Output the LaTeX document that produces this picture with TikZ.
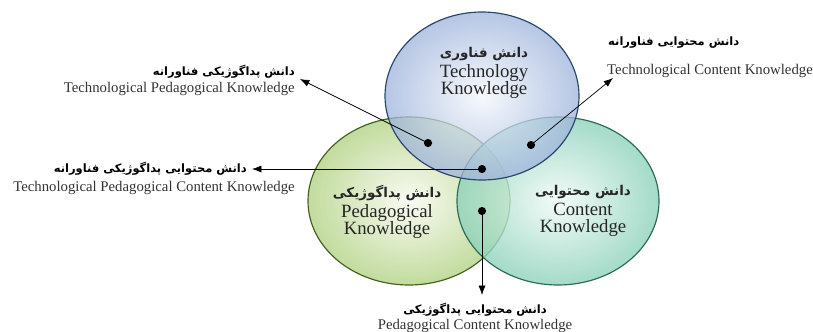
\documentclass[tikz,border=0pt]{standalone}
\usepackage{fontspec}
\setmainfont{Liberation Serif}
\newfontfamily\farsi[Script=Arabic]{DejaVu Sans}
\TeXXeTstate=1
\usetikzlibrary{arrows.meta}

\definecolor{techedge}{HTML}{2B4570}
\definecolor{techin}{HTML}{F4F7FC}
\definecolor{techout}{HTML}{9DB3DB}
\definecolor{pededge}{HTML}{43621F}
\definecolor{pedin}{HTML}{F8FAF0}
\definecolor{pedout}{HTML}{B7D58C}
\definecolor{conedge}{HTML}{2D6A58}
\definecolor{conin}{HTML}{F0FAF6}
\definecolor{conout}{HTML}{8DD2BA}

\newcommand{\fa}[1]{{\farsi\bfseries\beginR #1\endR}}
\newcommand{\setfa}[1]{{\fontsize{11.5}{13}\selectfont\fa{#1}}}

\begin{document}
\begin{tikzpicture}[x=0.03cm,y=-0.03cm,
  knowdot/.style={circle,fill=black,inner sep=0pt,minimum size=7pt},
  pointer/.style={-{Latex[length=8pt,width=6pt]},line width=0.6pt},
  falabel/.style={font=\fontsize{9.8}{11}\selectfont,inner sep=0pt},
  enlabel/.style={font=\fontsize{12.6}{14}\selectfont,text=black!80,inner sep=0pt},
  setname/.style={align=center,font=\fontsize{16}{14.8}\selectfont,text=black!85,inner sep=0pt}]
			%%%%% START %%%%%
			
			\useasboundingbox (0,0) rectangle (813,331);
			
			\path[shading=radial, inner color=pedin, outer color=pedout, fill opacity=0.85] (409,201) ellipse (101 and 84);
			\draw[line width=1pt, color=pededge] (409,201) ellipse (101 and 84);
			
			\path[shading=radial, inner color=conin, outer color=conout, fill opacity=0.8] (558,201) ellipse (101 and 84);
			\draw[line width=1pt, color=conedge] (558,201) ellipse (101 and 84);
			
			\path[shading=radial, inner color=techin, outer color=techout, fill opacity=0.75] (482,96) ellipse (97 and 84);
			\draw[line width=1pt, color=techedge] (482,96) ellipse (97 and 84);
			
			\node[setname] (tk) at (484,73) {\setfa{دانش فناوری}\\[2pt]Technology\\Knowledge};
			\node[setname] (pk) at (387,212) {\setfa{دانش پداگوژیکی}\\[2pt]Pedagogical\\Knowledge};
			\node[setname] (ck) at (583,211) {\setfa{دانش محتوایی}\\[2pt]Content\\Knowledge};
			
			\coordinate (tpktip) at (300,79);
			\coordinate (tcktip) at (613,78);
			\coordinate (tpacktip) at (252,169);
			\coordinate (pcktip) at (482,295);
			
			\draw[pointer] (428,143) -- (tpktip);
			\draw[pointer] (531,145) -- (tcktip);
			\draw[pointer] (482,169) -- (tpacktip);
			\draw[pointer] (482,211) -- (pcktip);
			
			\node[knowdot] (tpk) at (428,143) {};
			\node[knowdot] (tck) at (531,145) {};
			\node[knowdot] (tpack) at (482,169) {};
			\node[knowdot] (pck) at (482,211) {};
			
			\node[falabel, anchor=east] (tpkfa) at (295,72) {\fa{دانش پداگوژیکی فناورانه}};
			\node[enlabel, anchor=east] (tpken) at (295,89) {Technological Pedagogical Knowledge};
			
			\node[falabel, anchor=west] (tckfa) at (608,43) {\fa{دانش محتوایی فناورانه}};
			\node[enlabel, anchor=west] (tcken) at (607,71) {Technological Content Knowledge};
			
			\node[falabel, anchor=east] (tpackfa) at (247,169) {\fa{دانش محتوایی پداگوژیکی فناورانه}};
			\node[enlabel, anchor=east] (tpacken) at (295,188) {Technological Pedagogical Content Knowledge};
			
			\node[falabel] (pckfa) at (475,310) {\fa{دانش محتوایی پداگوژیکی}};
			\node[enlabel] (pcken) at (475,326) {Pedagogical Content Knowledge};
			
			%%%%% END %%%%%
\end{tikzpicture}
\end{document}
